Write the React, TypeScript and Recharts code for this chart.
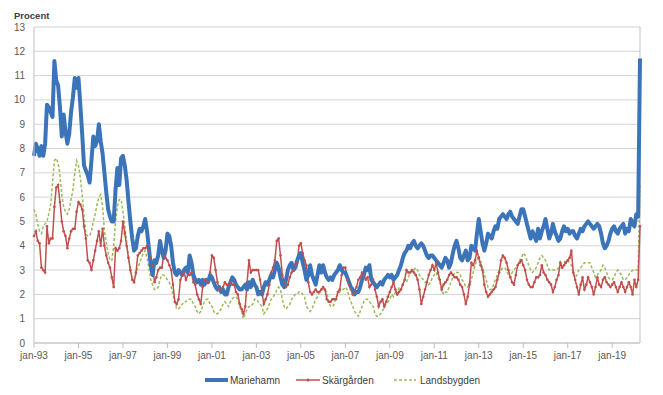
import React from "react";
import { LineChart, Line, XAxis, YAxis, CartesianGrid, ReferenceLine } from "recharts";

const monthNames = ["jan", "feb", "mar", "apr", "maj", "jun", "jul", "aug", "sep", "okt", "nov", "dec"];
const years = ["93","94","95","96","97","98","99","00","01","02","03","04","05","06","07","08","09","10","11","12","13","14","15","16","17","18","19","20"];

const xTickLabels = ["jan-93","jan-95","jan-97","jan-99","jan-01","jan-03","jan-05","jan-07","jan-09","jan-11","jan-13","jan-15","jan-17","jan-19"];
const yTicks = [0,1,2,3,4,5,6,7,8,9,10,11,12,13];

const mariehamn = [
  7.7, 8.2, 8.0, 7.7, 8.1, 7.7, 8.2, 9.8, 9.7, 9.5, 9.3, 11.6,
  10.8, 10.6, 9.7, 8.5, 9.4, 8.7, 8.2, 8.6, 9.5, 10.1, 10.9, 10.5,
  10.9, 9.8, 8.6, 7.3, 7.1, 6.9, 6.6, 7.5, 8.5, 8.1, 8.3, 9.0,
  8.3, 7.8, 7.0, 6.2, 5.5, 5.2, 5.0, 5.0, 6.3, 7.2, 6.5, 7.6,
  7.7, 7.3, 6.7, 5.8, 5.0, 4.3, 3.8, 3.9, 4.4, 4.7, 4.6, 4.8,
  5.1, 4.6, 3.9, 3.2, 2.8, 3.4, 3.3, 3.6, 4.2, 3.8, 3.5, 3.8,
  4.5, 4.4, 4.0, 3.3, 2.9, 2.8, 3.0, 2.9, 2.8, 3.0, 3.1, 2.9,
  3.6, 3.3, 2.8, 2.6, 2.5, 2.6, 2.4, 2.6, 2.4, 2.6, 2.5, 2.8,
  2.7, 2.5, 2.3, 2.2, 2.3, 2.1, 2.2, 2.0, 2.0, 2.3, 2.5, 2.7,
  2.6, 2.4, 2.3, 2.2, 2.2, 2.3, 2.4, 2.2, 2.5, 2.3, 2.6, 2.4,
  2.3, 2.0, 2.1, 2.0, 2.3, 2.5, 2.4, 2.6, 2.8, 2.7, 3.0, 3.3,
  3.1, 2.7, 2.4, 2.3, 2.6, 3.0, 3.2, 3.3, 3.0, 3.1, 3.4, 3.6,
  3.7, 3.3, 3.0, 2.6, 2.8, 3.2, 2.8, 2.6, 2.4, 2.8, 3.2, 2.9,
  3.2, 2.9, 2.7, 2.6, 2.7, 2.6, 2.8, 2.9, 3.0, 3.2, 3.0, 2.9,
  2.9, 2.7, 2.5, 2.3, 2.2, 2.0, 2.1, 2.1, 2.3, 2.6, 2.8, 3.1,
  3.0, 3.2, 2.6, 2.5, 2.4, 2.3, 2.4, 2.5, 2.4, 2.6, 2.7, 2.8,
  2.7, 2.8, 2.6, 2.7, 2.8, 3.0, 3.2, 3.5, 3.7, 3.8, 4.0, 3.9,
  4.1, 4.2, 4.0, 3.9, 4.0, 4.1, 4.0, 3.8, 3.6, 3.5, 3.6, 3.6,
  3.5, 3.4, 3.3, 3.2, 3.1, 3.3, 3.5, 3.4, 3.1, 3.3, 3.7, 4.0,
  4.2, 3.9, 3.5, 3.4, 3.6, 3.8, 3.4, 3.5, 4.0, 3.9, 3.8, 4.5,
  5.1, 4.6, 4.1, 3.8, 4.1, 4.5, 4.4, 4.3, 4.6, 4.8, 4.7, 5.1,
  5.2, 5.3, 5.2, 5.1, 5.3, 5.4, 5.2, 5.1, 5.0, 4.9, 5.2, 5.5,
  5.5, 5.2, 4.9, 4.6, 4.3, 4.6, 4.4, 4.2, 4.7, 4.3, 4.6, 4.8,
  5.1, 4.7, 4.3, 4.5, 4.9, 4.6, 4.4, 4.2, 4.3, 4.6, 4.8, 4.6,
  4.7, 4.5, 4.6, 4.6, 4.4, 4.3, 4.5, 4.7, 4.6, 4.8, 4.9, 5.0,
  4.9, 4.8, 4.7, 4.8, 4.9, 4.8, 4.5, 4.1, 3.9, 4.0, 4.2, 4.5,
  4.7, 4.8, 4.6, 4.5, 4.7, 4.8, 4.9, 4.5, 4.7, 4.6, 5.1, 4.9,
  4.8, 5.3, 5.2, 11.7,
];

const skargarden = [
  4.4, 4.6, 4.2, 4.1, 3.1, 3.0, 2.9, 4.8, 4.1, 4.3, 4.3, 5.6,
  6.4, 6.5, 5.8, 5.0, 4.6, 4.4, 3.9, 4.3, 4.6, 4.7, 4.7, 5.4,
  5.8, 5.7, 5.5, 4.8, 4.3, 3.4, 3.3, 3.0, 3.4, 3.8, 4.2, 4.6,
  4.0, 4.7, 4.0, 3.6, 3.3, 3.1, 2.7, 2.3, 3.9, 3.8, 3.9, 4.2,
  5.0, 4.5, 4.0, 3.5, 3.0, 2.6, 2.5, 2.9, 3.6, 3.7, 3.8, 3.9,
  3.9, 4.0, 3.8, 3.5, 3.2, 2.5, 2.7, 3.0, 3.1, 3.1, 3.6, 3.5,
  3.4, 3.2, 3.0, 2.4, 1.7, 1.6, 1.8, 2.6, 2.8, 2.9, 2.6, 2.8,
  2.8, 2.9, 2.5, 2.4, 2.0, 1.8, 1.6, 2.3, 2.6, 2.6, 2.5, 2.9,
  3.6, 3.5, 3.0, 2.5, 2.2, 2.2, 2.3, 2.5, 2.4, 2.4, 2.5, 2.4,
  2.4, 2.1, 2.0, 1.6, 1.4, 1.2, 1.5, 2.5, 3.4, 2.9, 3.0, 3.0,
  3.0, 3.0, 2.6, 2.1, 1.6, 1.8, 2.0, 2.4, 2.9, 3.1, 3.4, 4.2,
  4.3, 3.6, 2.8, 2.5, 2.3, 2.4, 2.7, 2.9, 3.0, 3.2, 3.3, 4.0,
  4.1, 3.7, 3.4, 3.2, 2.5, 2.1, 2.0, 2.1, 2.2, 2.1, 2.1, 2.2,
  2.3, 2.2, 1.8, 1.7, 1.7, 1.8, 1.8, 1.8, 2.1, 2.2, 2.8, 3.1,
  3.1, 2.6, 2.4, 2.2, 2.0, 2.1, 2.3, 2.6, 2.7, 2.9, 2.8, 2.6,
  2.7, 2.3, 2.4, 2.6, 2.2, 1.9, 1.5, 1.7, 1.8, 1.5, 1.7, 1.9,
  2.1, 2.3, 2.5, 2.2, 2.0, 2.1, 2.2, 2.4, 2.6, 3.0, 2.9, 2.9,
  3.0, 2.9, 2.8, 2.6, 2.2, 1.6, 1.9, 2.2, 2.5, 2.8, 3.0, 3.2,
  3.0, 3.3, 2.9, 2.6, 2.2, 2.4, 2.5, 2.6, 2.8, 2.9, 2.8, 2.7,
  2.7, 2.6, 2.4, 2.3, 2.0, 1.6, 1.9, 2.4, 3.3, 3.2, 3.4, 3.8,
  3.5, 3.2, 3.0, 2.4, 2.1, 1.9, 2.0, 2.1, 2.2, 2.3, 2.6, 2.9,
  3.4, 3.6, 3.5, 3.3, 3.0, 2.7, 2.5, 2.4, 2.8, 3.2, 3.3, 3.4,
  3.2, 3.0, 2.6, 2.4, 2.3, 2.3, 2.5, 2.7, 2.7, 2.8, 3.2, 2.9,
  2.8, 2.6, 2.5, 2.4, 2.1, 2.3, 2.6, 2.8, 3.3, 3.1, 3.2, 3.3,
  3.4, 3.5, 3.8, 2.9, 2.6, 2.3, 2.0, 2.4, 2.7, 2.2, 2.4, 2.7,
  2.5, 2.3, 2.0, 2.3, 2.7, 2.4, 2.3, 2.6, 2.7, 2.5, 2.4, 2.3,
  2.4, 2.5, 2.3, 2.1, 2.3, 2.5, 2.3, 2.1, 2.3, 2.5, 2.3, 2.0,
  2.6, 2.3, 2.6, 4.8,
];

const landsbygden = [
  5.5, 5.3, 4.9, 4.6, 4.5, 4.8, 4.9, 5.0, 5.3, 5.7, 6.6, 7.5,
  7.6, 7.4, 6.9, 6.1, 5.6, 5.4, 5.3, 5.5, 5.9, 6.3, 7.0, 7.5,
  7.3, 6.8, 6.1, 5.2, 4.5, 4.4, 4.4, 4.6, 5.0, 5.3, 5.7, 6.0,
  6.1, 5.6, 4.6, 4.1, 3.7, 3.4, 3.4, 4.0, 5.0, 5.6, 5.9, 5.9,
  5.4, 4.8, 4.2, 3.5, 3.0, 2.7, 2.6, 2.8, 3.1, 3.3, 3.5, 3.7,
  3.8, 3.5, 3.1, 2.6, 2.4, 2.2, 2.2, 2.3, 2.6, 2.8, 2.8, 2.7,
  2.6, 2.5, 2.3, 2.0, 1.7, 1.4, 1.4, 1.5, 1.6, 1.7, 1.7, 1.8,
  1.8, 1.8, 1.6, 1.5, 1.3, 1.2, 1.3, 1.5, 1.7, 1.8, 1.8, 1.6,
  1.5, 1.3, 1.2, 1.2, 1.3, 1.4, 1.6, 1.7, 1.6, 1.5, 1.7, 1.8,
  1.9, 1.9, 1.8, 1.5, 1.3, 1.0, 1.2, 1.4, 1.5, 1.5, 1.6, 1.8,
  1.8, 1.7, 1.6, 1.5, 1.2, 1.3, 1.4, 1.6, 1.8, 1.9, 2.0, 2.2,
  2.3, 2.2, 1.8, 1.5, 1.4, 1.5, 1.6, 1.8, 1.9, 2.0, 2.0, 2.1,
  2.1, 2.0, 1.9, 1.5, 1.4, 1.3, 1.4, 1.6, 1.8, 1.9, 2.1, 2.2,
  2.2, 2.2, 2.1, 1.7, 1.5, 1.5, 1.6, 1.9, 2.0, 2.1, 2.2, 2.2,
  2.3, 2.2, 1.9, 1.7, 1.5, 1.3, 1.2, 1.1, 1.3, 1.5, 1.7, 1.8,
  1.8, 1.7, 1.6, 1.5, 1.2, 1.1, 1.1, 1.2, 1.3, 1.5, 1.6, 1.7,
  1.8, 2.0, 1.9, 2.1, 2.0, 2.3, 2.2, 2.4, 2.6, 2.5, 2.7, 2.9,
  3.0, 3.0, 3.1, 3.0, 2.8, 2.7, 2.6, 2.5, 2.5, 2.4, 2.5, 2.7,
  2.8, 2.9, 2.7, 2.5, 2.2, 2.0, 2.1, 2.1, 2.3, 2.5, 2.7, 2.9,
  2.9, 2.9, 2.8, 2.6, 2.5, 2.3, 2.3, 2.4, 2.6, 2.9, 3.2, 3.4,
  3.6, 3.4, 3.1, 2.8, 2.6, 2.3, 2.2, 2.2, 2.4, 2.6, 2.8, 3.0,
  3.0, 3.1, 3.1, 3.0, 2.8, 2.7, 2.9, 3.0, 3.1, 3.2, 3.4, 3.5,
  3.7, 3.6, 3.4, 3.2, 3.0, 2.9, 3.0, 3.1, 3.3, 3.5, 3.6, 3.5,
  3.4, 3.2, 3.0, 3.0, 3.0, 3.0, 3.0, 3.1, 3.2, 3.3, 3.3, 3.4,
  3.4, 3.3, 3.2, 2.9, 2.7, 2.8, 3.0, 3.1, 3.2, 3.3, 3.3, 3.3,
  3.3, 3.1, 2.9, 2.7, 2.8, 2.9, 3.0, 3.2, 3.1, 2.9, 2.7, 2.6,
  2.6, 2.7, 2.9, 3.0, 2.9, 2.8, 2.6, 2.6, 2.7, 2.8, 2.9, 3.0,
  3.0, 3.0, 3.0, 6.6,
];

const categories: string[] = [];
years.forEach((y) => monthNames.forEach((m) => categories.push(`${m}-${y}`)));

const data = mariehamn.map((v, i) => ({
  month: categories[i],
  Mariehamn: v,
  "Skärgården": skargarden[i],
  Landsbygden: landsbygden[i],
}));

const BLUE = "#3C74B9";
const RED = "#C0504D";
const GREEN = "#9BBB59";
const GRID = "#D4D4D4";
const AXIS = "#BFBFBF";
const TEXT = "#595959";
const FONT = "'Liberation Sans', Arial, sans-serif";

const SmallDot = (props: any) => {
  const { cx, cy } = props;
  if (cx == null || cy == null) return null;
  return <circle cx={cx} cy={cy} r={1.3} fill={RED} stroke="none" />;
};

const Legend = () => (
  <svg width={655} height={20} style={{ position: "absolute", left: 0, top: 362 }}>
    <g fontFamily={FONT} fontSize={10} fill="#404040">
      <line x1={197} x2={220} y1={10} y2={10} stroke={BLUE} strokeWidth={4} />
      <text x={222} y={13.5}>Mariehamn</text>
      <line x1={288} x2={312} y1={10} y2={10} stroke={RED} strokeWidth={1.5} />
      <circle cx={300} cy={10} r={1.5} fill={RED} />
      <text x={314} y={13.5}>Skärgården</text>
      <line x1={386} x2={408} y1={10} y2={10} stroke={GREEN} strokeWidth={1.5} strokeDasharray="3 2" />
      <text x={412} y={13.5}>Landsbygden</text>
    </g>
  </svg>
);

export default function App() {
  return (
    <div style={{ position: "relative", width: 655, height: 387, fontFamily: FONT, background: "#fff" }}>
      <div style={{ position: "absolute", left: 6, top: 2, fontSize: 9.5, fontWeight: "bold", color: "#404040", fontFamily: FONT }}>
        Procent
      </div>
      <LineChart width={655} height={387} data={data} margin={{ top: 19, right: 23, left: 0, bottom: 22 }}>
        <CartesianGrid vertical={false} stroke={GRID} strokeWidth={1} />
        <XAxis
          dataKey="month"
          ticks={xTickLabels}
          interval={0}
          height={30}
          stroke={AXIS}
          tickSize={5}
          tickMargin={4}
          tick={{ fill: TEXT, fontSize: 10, fontFamily: FONT }}
          axisLine={{ stroke: AXIS }}
          tickLine={{ stroke: AXIS }}
        />
        <YAxis
          domain={[0, 13]}
          ticks={yTicks}
          interval={0}
          width={26}
          tickLine={false}
          tickSize={6}
          tickMargin={3}
          axisLine={{ stroke: AXIS }}
          tick={{ fill: TEXT, fontSize: 10, fontFamily: FONT }}
        />
        <ReferenceLine x={categories[mariehamn.length - 1]} stroke={AXIS} />
        <Line type="linear" dataKey="Landsbygden" stroke={GREEN} strokeWidth={1.5} strokeDasharray="3 2" dot={false} isAnimationActive={false} />
        <Line type="linear" dataKey="Skärgården" stroke={RED} strokeWidth={1.5} dot={<SmallDot />} isAnimationActive={false} />
        <Line type="linear" dataKey="Mariehamn" stroke={BLUE} strokeWidth={4} dot={false} strokeLinejoin="round" isAnimationActive={false} />
      </LineChart>
      <Legend />
    </div>
  );
}
